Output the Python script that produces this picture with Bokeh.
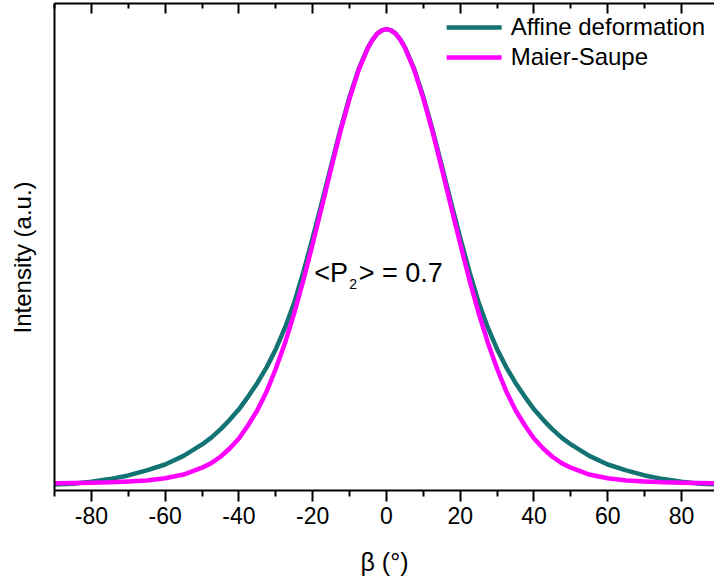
from bokeh.plotting import figure
from bokeh.models import Range1d, FixedTicker, LinearAxis, Label, Legend, LegendItem, Title
from bokeh.embed import file_html
from bokeh.resources import INLINE

# ---- data ----
beta = [-90, -85, -80, -75, -70, -65, -60, -55, -50, -47.5, -45, -42.5, -40, -37.5,
        -35, -32.5, -30, -27.5, -25, -22.5, -20, -17.5, -15, -12.5, -10, -7.5, -5, -3.75,
        -2.5, -1.25, 0, 1.25, 2.5, 3.75, 5, 7.5, 10, 12.5, 15, 17.5, 20, 22.5, 25, 27.5,
        30, 32.5, 35, 37.5, 40, 42.5, 45, 47.5, 50, 55, 60, 65, 70, 75, 80, 85, 90]

affine = [0.001, 0.003, 0.007, 0.013, 0.021, 0.032, 0.045, 0.064, 0.089, 0.104, 0.122, 0.143,
          0.166, 0.194, 0.224, 0.258, 0.298, 0.345, 0.400, 0.468, 0.542, 0.620, 0.700, 0.779,
          0.851, 0.913, 0.960, 0.977, 0.990, 0.997, 1.000, 0.997, 0.990, 0.977, 0.960, 0.913,
          0.851, 0.779, 0.700, 0.620, 0.542, 0.468, 0.400, 0.345, 0.298, 0.258, 0.224, 0.194,
          0.166, 0.143, 0.122, 0.104, 0.089, 0.064, 0.045, 0.032, 0.021, 0.013, 0.007, 0.003,
          0.001]

maier_saupe = [0.004, 0.0045, 0.005, 0.006, 0.008, 0.010, 0.015, 0.023, 0.038, 0.048, 0.062,
               0.080, 0.102, 0.131, 0.164, 0.205, 0.255, 0.312, 0.377, 0.450, 0.529, 0.611,
               0.694, 0.775, 0.848, 0.911, 0.959, 0.977, 0.990, 0.997, 1.000, 0.997, 0.990,
               0.977, 0.959, 0.911, 0.848, 0.775, 0.694, 0.611, 0.529, 0.450, 0.377, 0.312,
               0.255, 0.205, 0.164, 0.131, 0.102, 0.080, 0.062, 0.048, 0.038, 0.023, 0.015,
               0.010, 0.008, 0.006, 0.005, 0.0045, 0.004]

major_ticks = [-80, -60, -40, -20, 0, 20, 40, 60, 80]
tick_labels = ["-80", "-60", "-40", "-20", "0", "20", "40", "60", "80"]
minor_ticks = [-90, -70, -50, -30, -10, 10, 30, 50, 70, 90]

series_names = ["Affine deformation", "Maier-Saupe"]
colors = ["#137272", "#FF00FF"]

FONT = "Liberation Sans"

p = figure(width=714, height=580, output_backend="svg", toolbar_location=None,
           x_range=Range1d(-90, 88.94), y_range=Range1d(-0.012, 1.056),
           min_border_left=53, min_border_right=0, min_border_top=3, min_border_bottom=90)
p.grid.visible = False
p.outline_line_color = None
p.background_fill_color = "white"
p.border_fill_color = "white"

# bottom axis
xa = p.xaxis[0]
xa.ticker = FixedTicker(ticks=major_ticks, minor_ticks=minor_ticks)
xa.major_label_overrides = dict(zip(major_ticks, tick_labels))
xa.major_tick_out = 11
xa.major_tick_in = 0
xa.minor_tick_out = 6
xa.minor_tick_in = 0
xa.axis_line_width = 2
xa.major_tick_line_width = 2
xa.minor_tick_line_width = 2
xa.major_label_text_font = FONT
xa.major_label_text_font_size = "23px"
xa.major_label_text_color = "black"
xa.major_label_standoff = 5
xa.axis_label = "β (°)"
xa.axis_label_text_font = FONT
xa.axis_label_text_font_size = "25px"
xa.axis_label_text_font_style = "normal"
xa.axis_label_text_color = "black"
xa.axis_label_standoff = 21

# left axis: line only; one invisible tick reserves a little room before the title
ya = p.yaxis[0]
ya.ticker = FixedTicker(ticks=[0.5], minor_ticks=[])
ya.major_label_overrides = {0.5: ""}
ya.major_label_standoff = 0
ya.major_tick_out = 9
ya.major_tick_in = 0
ya.major_tick_line_alpha = 0
ya.minor_tick_out = 0
ya.minor_tick_in = 0
ya.axis_line_width = 2

# y title as a left-side title, placed slightly below the frame centre
ytitle = Title(text="Intensity (a.u.)", align="left", offset=157, standoff=16,
               vertical_align="top",
               text_font=FONT, text_font_size="24px", text_font_style="normal",
               text_color="black")
p.add_layout(ytitle, "left")

# top axis: ticks pointing inward, no labels
top = LinearAxis(ticker=FixedTicker(ticks=major_ticks, minor_ticks=minor_ticks),
                 major_tick_in=10, major_tick_out=0, minor_tick_in=5, minor_tick_out=0,
                 axis_line_width=2, major_tick_line_width=2, minor_tick_line_width=2,
                 major_label_overrides={t: "" for t in major_ticks},
                 major_label_standoff=0)
p.add_layout(top, "above")

r1 = p.line(beta, affine, line_color=colors[0], line_width=4.5, line_cap="round", line_join="round")
r2 = p.line(beta, maier_saupe, line_color=colors[1], line_width=4.5, line_cap="round", line_join="round")

legend = Legend(items=[LegendItem(label=series_names[0], renderers=[r1]),
                       LegendItem(label=series_names[1], renderers=[r2])],
                location="top_right", border_line_color=None, background_fill_alpha=0,
                label_text_font=FONT, label_text_font_size="24px", label_text_color="black",
                glyph_width=55, glyph_height=30, label_height=30, label_standoff=9,
                spacing=0, padding=7, margin=9)
p.add_layout(legend)

# annotation <P2> = 0.7
p.add_layout(Label(x=-19.6, y=0.466, text="<P", text_font=FONT, text_font_size="27px",
                   text_baseline="alphabetic", text_align="left", text_color="black"))
p.add_layout(Label(x=-10.1, y=0.441, text="2", text_font=FONT, text_font_size="14px",
                   text_baseline="alphabetic", text_align="left", text_color="black"))
p.add_layout(Label(x=-7.5, y=0.466, text="> = 0.7", text_font=FONT, text_font_size="27px",
                   text_baseline="alphabetic", text_align="left", text_color="black"))

open("out.html", "w").write(file_html(p, INLINE))
